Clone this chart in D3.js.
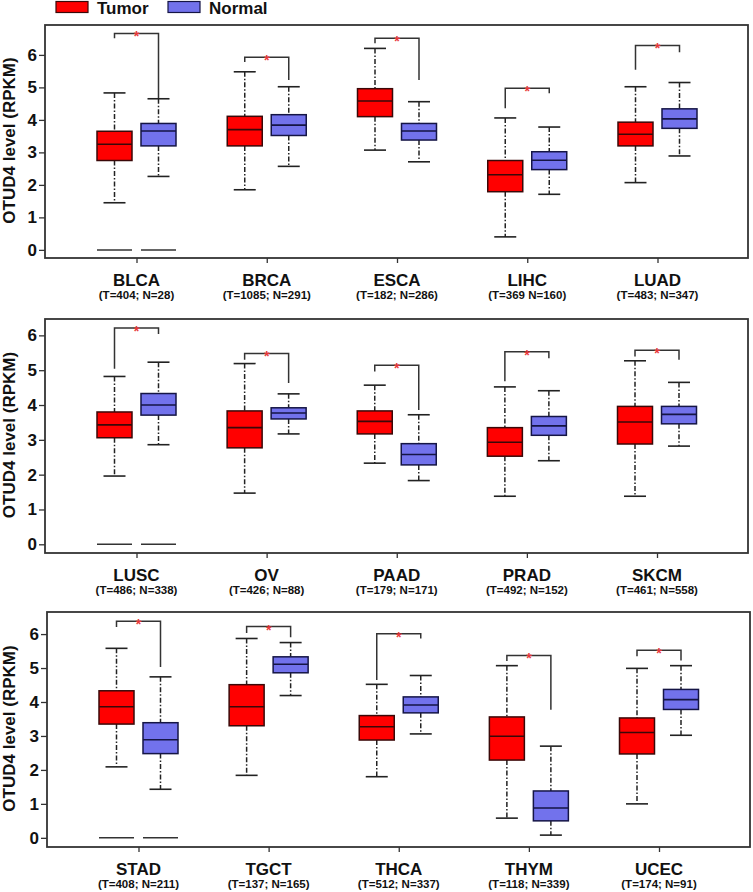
<!DOCTYPE html>
<html>
<head>
<meta charset="utf-8">
<script src="https://cdn.jsdelivr.net/npm/d3@7"></script>
<style>
  body { margin: 0; background: #fff; }
  svg text { font-family: "Liberation Sans", Arial, sans-serif; font-weight: bold; }
</style>
</head>
<body>
<div id="chart"></div>
<script>
// cancer types, 5 per panel
var cancers = ["BLCA", "BRCA", "ESCA", "LIHC", "LUAD",
  "LUSC", "OV", "PAAD", "PRAD", "SKCM",
  "STAD", "TGCT", "THCA", "THYM", "UCEC"];

var sampleSizes = ["(T=404; N=28)", "(T=1085; N=291)", "(T=182; N=286)", "(T=369 N=160)", "(T=483; N=347)",
  "(T=486; N=338)", "(T=426; N=88)", "(T=179; N=171)", "(T=492; N=152)", "(T=461; N=558)",
  "(T=408; N=211)", "(T=137; N=165)", "(T=512; N=337)", "(T=118; N=339)", "(T=174; N=91)"];

// [min, q1, median, q3, max]
var tumorStats = [
  [1.45, 2.75, 3.25, 3.65, 4.83],
  [1.85, 3.20, 3.70, 4.11, 5.48],
  [3.07, 4.10, 4.58, 4.96, 6.20],
  [0.40, 1.79, 2.31, 2.75, 4.06],
  [2.07, 3.20, 3.56, 3.93, 5.02],
  [1.96, 3.06, 3.43, 3.80, 4.82],
  [1.47, 2.77, 3.35, 3.83, 5.19],
  [2.33, 3.17, 3.53, 3.83, 4.57],
  [1.38, 2.53, 2.93, 3.35, 4.52],
  [1.38, 2.88, 3.51, 3.96, 5.27],
  [2.09, 3.35, 3.86, 4.33, 5.58],
  [1.84, 3.30, 3.86, 4.51, 5.87],
  [1.80, 2.88, 3.27, 3.60, 4.52],
  [0.58, 2.29, 2.99, 3.56, 5.07],
  [1.00, 2.47, 3.10, 3.53, 4.99]
];

var normalStats = [
  [2.26, 3.20, 3.66, 3.89, 4.65],
  [2.57, 3.52, 3.84, 4.16, 5.02],
  [2.71, 3.38, 3.66, 3.89, 4.56],
  [1.71, 2.47, 2.76, 3.02, 3.78],
  [2.89, 3.74, 4.03, 4.34, 5.15],
  [2.86, 3.71, 4.00, 4.33, 5.23],
  [3.17, 3.60, 3.77, 3.92, 4.32],
  [1.83, 2.28, 2.58, 2.89, 3.72],
  [2.40, 3.13, 3.40, 3.67, 4.41],
  [2.82, 3.46, 3.73, 3.96, 4.65],
  [1.43, 2.48, 2.89, 3.39, 4.74],
  [4.19, 4.86, 5.11, 5.33, 5.75],
  [3.06, 3.68, 3.91, 4.15, 4.78],
  [0.08, 0.50, 0.88, 1.38, 2.70],
  [3.02, 3.78, 4.07, 4.37, 5.07]
];

// significance bracket: [top, left leg end, right leg end]
var brackets = [
  [6.66, 6.51, 4.67],
  [5.93, 5.78, 5.23],
  [6.51, 6.36, 5.23],
  [4.97, 4.36, 4.82],
  [6.29, 5.54, 6.08],
  [6.21, 5.04, 6.04],
  [5.48, 5.30, 4.63],
  [5.14, 4.96, 3.86],
  [5.53, 4.68, 5.34],
  [5.57, 5.39, 5.30],
  [6.38, 6.21, 5.03],
  [6.22, 6.03, 5.91],
  [6.01, 4.65, 5.87],
  [5.37, 5.21, 3.77],
  [5.52, 5.35, 5.22]
];

// cancers that also show a flat line at zero
var zeroRows = ["BLCA", "LUSC", "STAD"];

var yTicks = [0, 1, 2, 3, 4, 5, 6];

var groups = ["Tumor", "Normal"];
var fills = ["#ff0000", "#7272ec"];
var strokes = ["#3a0808", "#151545"];

var width = 753, height = 892;

var panels = [
  { top: 25, bottom: 258, left: 45, right: 748, ymin: -0.25, ymax: 6.92, x0: 136.5, x1: 657.5 },
  { top: 319, bottom: 553, left: 45, right: 748, ymin: -0.25, ymax: 6.47, x0: 136.5, x1: 657 },
  { top: 612, bottom: 847, left: 47, right: 750, ymin: -0.27, ymax: 6.65, x0: 138.5, x1: 659 }
];

var svg = d3.select("#chart")
  .append("svg")
  .attr("width", width)
  .attr("height", height);

// legend
var legend = svg.append("g").attr("class", "legend");
[56, 168].forEach(function(lx, i) {
  legend.append("rect")
    .attr("x", lx).attr("y", 1.5)
    .attr("width", 32).attr("height", 11)
    .attr("fill", fills[i])
    .attr("stroke", strokes[i])
    .attr("stroke-width", 1.2);
  legend.append("text")
    .attr("x", lx + 41).attr("y", 13.5)
    .attr("font-size", 17)
    .attr("fill", "#111")
    .text(groups[i]);
});

var offset = 22, boxW = 35, capW = 22;

panels.forEach(function(p, r) {
  var rowCancers = cancers.slice(r * 5, r * 5 + 5);

  var y = d3.scaleLinear()
    .domain([p.ymin, p.ymax])
    .range([p.bottom, p.top]);

  var x = d3.scalePoint()
    .domain(rowCancers)
    .range([p.x0, p.x1]);

  var g = svg.append("g").attr("class", "panel");

  // y axis
  var yAxis = g.append("g")
    .attr("transform", "translate(" + p.left + ",0)")
    .call(d3.axisLeft(y).tickValues(yTicks).tickSize(6).tickPadding(2).tickFormat(d3.format("d")));
  yAxis.select(".domain").remove();
  yAxis.selectAll("line").attr("stroke", "#333").attr("stroke-width", 1.3);
  yAxis.selectAll("text")
    .attr("font-size", 17)
    .attr("font-family", "Liberation Sans, Arial, sans-serif")
    .attr("font-weight", "bold")
    .attr("fill", "#111");

  // x axis ticks
  var xAxis = g.append("g")
    .attr("transform", "translate(0," + p.bottom + ")")
    .call(d3.axisBottom(x).tickSize(5).tickFormat(""));
  xAxis.select(".domain").remove();
  xAxis.selectAll("line").attr("stroke", "#333").attr("stroke-width", 1.3);

  // frame
  g.append("rect")
    .attr("x", p.left).attr("y", p.top)
    .attr("width", p.right - p.left)
    .attr("height", p.bottom - p.top)
    .attr("fill", "none")
    .attr("stroke", "#333")
    .attr("stroke-width", 1.8);

  // y title
  g.append("text")
    .attr("transform", "translate(15," + ((p.top + p.bottom) / 2 - 1) + ") rotate(-90)")
    .attr("text-anchor", "middle")
    .attr("font-size", 17)
    .attr("fill", "#111")
    .text("OTUD4 level (RPKM)");

  rowCancers.forEach(function(c) {
    var idx = cancers.indexOf(c);
    var cx = x(c);
    var stats = [tumorStats[idx], normalStats[idx]];

    stats.forEach(function(s, k) {
      var bx = cx + (k === 0 ? -offset : offset);
      var bg = g.append("g");

      // whiskers
      bg.append("line")
        .attr("x1", bx).attr("x2", bx)
        .attr("y1", y(s[4])).attr("y2", y(s[3]))
        .attr("stroke", "#222").attr("stroke-width", 1.5)
        .attr("stroke-dasharray", "5,2,1.5,2");
      bg.append("line")
        .attr("x1", bx).attr("x2", bx)
        .attr("y1", y(s[1])).attr("y2", y(s[0]))
        .attr("stroke", "#222").attr("stroke-width", 1.5)
        .attr("stroke-dasharray", "5,2,1.5,2");
      [s[0], s[4]].forEach(function(v) {
        bg.append("line")
          .attr("x1", bx - capW / 2).attr("x2", bx + capW / 2)
          .attr("y1", y(v)).attr("y2", y(v))
          .attr("stroke", "#222").attr("stroke-width", 1.6);
      });

      // box
      bg.append("rect")
        .attr("x", bx - boxW / 2)
        .attr("y", y(s[3]))
        .attr("width", boxW)
        .attr("height", y(s[1]) - y(s[3]))
        .attr("fill", fills[k])
        .attr("stroke", strokes[k])
        .attr("stroke-width", 1.5);
      bg.append("line")
        .attr("x1", bx - boxW / 2).attr("x2", bx + boxW / 2)
        .attr("y1", y(s[2])).attr("y2", y(s[2]))
        .attr("stroke", strokes[k]).attr("stroke-width", 1.6);

      if (zeroRows.indexOf(c) >= 0) {
        bg.append("line")
          .attr("x1", bx - boxW / 2).attr("x2", bx + boxW / 2)
          .attr("y1", y(0)).attr("y2", y(0))
          .attr("stroke", "#333").attr("stroke-width", 1.5);
      }
    });

    // bracket with star
    var b = brackets[idx];
    var lx = cx - offset, rx = cx + offset;
    g.append("path")
      .attr("d", "M" + lx + "," + y(b[1]) + "V" + y(b[0]) + "H" + rx + "V" + y(b[2]))
      .attr("fill", "none")
      .attr("stroke", "#333")
      .attr("stroke-width", 1.5);
    g.append("text")
      .attr("x", cx).attr("y", y(b[0]) + 8)
      .attr("text-anchor", "middle")
      .attr("font-size", 14)
      .attr("font-weight", "normal")
      .attr("fill", "#e8383a")
      .text("*");

    // labels
    g.append("text")
      .attr("x", cx).attr("y", p.bottom + 27.5)
      .attr("text-anchor", "middle")
      .attr("font-size", 17)
      .attr("fill", "#111")
      .text(c);
    g.append("text")
      .attr("x", cx).attr("y", p.bottom + 41)
      .attr("text-anchor", "middle")
      .attr("font-size", 11.5)
      .attr("fill", "#111")
      .text(sampleSizes[idx]);
  });
});
</script>
</body>
</html>
